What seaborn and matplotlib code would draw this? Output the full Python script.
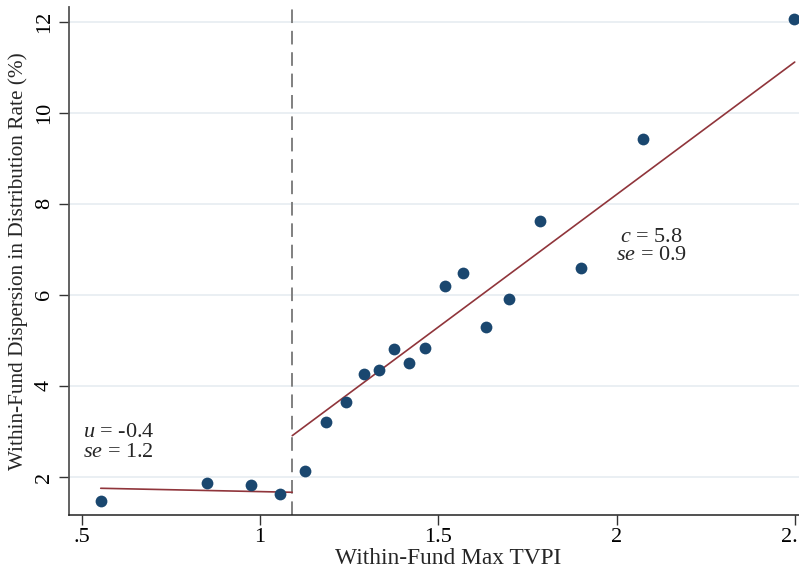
import numpy as np
import pandas as pd
import matplotlib
matplotlib.use("Agg")
import matplotlib.pyplot as plt
import seaborn as sns

# ---- data ----
bin_x = [0.553, 0.850, 0.973, 1.055, 1.125, 1.186, 1.240, 1.290, 1.332, 1.374,
         1.416, 1.461, 1.517, 1.570, 1.634, 1.699, 1.786, 1.900, 2.074, 2.497]
bin_y = [1.47, 1.87, 1.82, 1.63, 2.13, 3.21, 3.65, 4.26, 4.35, 4.81,
         4.51, 4.84, 6.20, 6.48, 5.30, 5.91, 7.63, 6.59, 9.43, 12.07]

left_fit_x = [0.553, 1.090]
left_fit_y = [1.752, 1.664]
right_fit_x = [1.090, 2.499]
right_fit_y = [2.908, 11.114]

cutoff = 1.09
x_ticks = [0.5, 1.0, 1.5, 2.0, 2.5]
x_ticklabels = [".5", "1", "1.5", "2", "2.5"]
y_ticks = [2, 4, 6, 8, 10, 12]
y_ticklabels = ["2", "4", "6", "8", "10", "12"]

x_label = "Within-Fund Max TVPI"
y_label = "Within-Fund Dispersion in Distribution Rate (%)"
right_note = [r"$c$ = 5.8", r"$se$ = 0.9"]
left_note = [r"$u$ = -0.4", r"$se$ = 1.2"]

# ---- style ----
sns.set_theme(style="white")
plt.rcParams["font.family"] = ["Liberation Serif", "DejaVu Serif"]
plt.rcParams["mathtext.fontset"] = "custom"
plt.rcParams["mathtext.rm"] = "Liberation Serif"
plt.rcParams["mathtext.it"] = "Liberation Serif:italic"

navy = "#1a476f"
maroon = "#90353b"
grid_c = "#e8eef2"
FS = 16

fig = plt.figure(figsize=(7.99, 5.71), dpi=100)
ax = fig.add_axes([69 / 799, 56 / 571, 1 - 69 / 799, (515 - 6.7) / 571])

pts = pd.DataFrame({"x": bin_x, "y": bin_y})
lf = pd.DataFrame({"x": left_fit_x, "y": left_fit_y})
rf = pd.DataFrame({"x": right_fit_x, "y": right_fit_y})

for yt in y_ticks:
    ax.axhline(yt, color=grid_c, lw=1.3, zorder=0)

sns.lineplot(data=lf, x="x", y="y", ax=ax, color=maroon, lw=1.2, zorder=2)
sns.lineplot(data=rf, x="x", y="y", ax=ax, color=maroon, lw=1.2, zorder=2)
sns.scatterplot(data=pts, x="x", y="y", ax=ax, color=navy, s=72,
                edgecolor=navy, linewidth=0, zorder=3)
ax.axvline(cutoff, color="#808080", lw=1.4, ls=(0, (7, 4)), zorder=1)

ax.set_xlim(0.464, 2.511)
ax.set_ylim(1.165, 12.33)
ax.set_xticks(x_ticks)
ax.set_xticklabels(x_ticklabels)
ax.set_yticks(y_ticks)
ax.set_yticklabels(y_ticklabels, rotation=90, va="center")

ax.tick_params(axis="both", direction="out", length=7, width=1.0,
               color="#333333", labelsize=FS, labelcolor="black", bottom=True, left=True)
ax.tick_params(axis="x", pad=2)
ax.tick_params(axis="y", pad=4)

for s in ["top", "right"]:
    ax.spines[s].set_visible(False)
ax.spines["left"].set_color("#555555")
ax.spines["left"].set_linewidth(1.3)
ax.spines["bottom"].set_color("#222222")
ax.spines["bottom"].set_linewidth(1.1)

ax.set_xlabel(x_label, fontsize=16.8)
ax.xaxis.set_label_coords((448 - 69) / 730, -(559 - 515) / 508.3, transform=ax.transAxes)
ax.xaxis.label.set_va("center")
ax.set_ylabel(y_label, fontsize=15.3, labelpad=5)

ax.text(2.097, 7.27, right_note[0], fontsize=FS, va="center", ha="center")
ax.text(2.097, 6.86, right_note[1], fontsize=FS, va="center", ha="center")
ax.text(0.503, 2.97, left_note[0], fontsize=FS, va="center", ha="left")
ax.text(0.503, 2.53, left_note[1], fontsize=FS, va="center", ha="left")

fig.savefig("out.png", dpi=100)
